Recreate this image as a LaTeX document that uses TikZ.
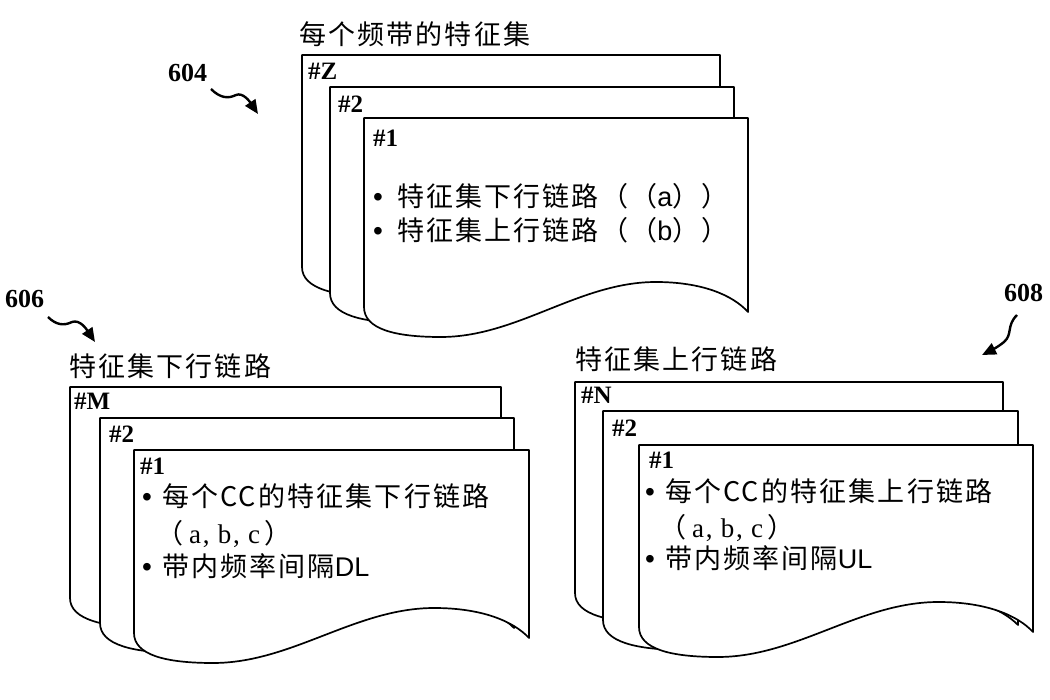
\documentclass[tikz,border=0pt]{standalone}
\usepackage{fontspec}
\setmainfont{Liberation Serif}
\newfontfamily\cjk[LetterSpace=8]{Noto Sans CJK SC}
\newfontfamily\lsans{Liberation Sans}
\newfontfamily\serifls[LetterSpace=6]{Liberation Serif}
\usetikzlibrary{arrows.meta}
\newcommand\bul{{\lsans\fontsize{28}{28}\selectfont •}}
\tikzset{
  pageline/.style={draw=black, fill=white, line width=1.7pt, line join=round},
  cjklbl/.style={anchor=base west, inner sep=0pt, font=\cjk\fontsize{27}{30}\selectfont},
  abclbl/.style={anchor=base west, inner sep=0pt, font=\serifls\fontsize{27}{30}\selectfont},
  idlbl/.style={anchor=base west, inner sep=0pt, font=\fontsize{25}{27}\selectfont\bfseries},
  numlbl/.style={anchor=base west, inner sep=0pt, font=\fontsize{26}{28}\selectfont\bfseries},
  squig/.style={line width=2.4pt, -{Triangle[length=14pt,width=12pt]}}
}
% #1 left, #2 top, #3 right, #4 bottom of left edge
\newcommand\docpage[4]{%
  \filldraw[pageline] (#1,#4) -- (#1,#2) -- (#3,#2) -- (#3,{#4+5})
   .. controls ({#3-0.04*(#3-#1)},{#4-12}) and ({#1+0.88*(#3-#1)},{#4-25}) .. ({#1+0.76*(#3-#1)},{#4-25})
   .. controls ({#1+0.56*(#3-#1)},{#4-25}) and ({#1+0.4*(#3-#1)},{#4+30}) .. ({#1+0.2*(#3-#1)},{#4+30})
   .. controls ({#1+0.08*(#3-#1)},{#4+30}) and (#1,{#4+22}) .. (#1,#4) -- cycle;}
\begin{document}
\begin{tikzpicture}[x=1pt,y=-1pt]
\useasboundingbox (0,0) rectangle (1050,700);

% ---------- group 604 ----------
\docpage{302}{55}{720}{267}
\docpage{330}{87}{734}{293}
\docpage{364}{118}{748}{307}
\node[cjklbl] (t604) at (299,45) {每个频带的特征集};
\node[numlbl] (n604) at (168,82) {604};
\node[idlbl] (z) at (308,80) {\#Z};
\node[idlbl] (z2) at (338,113) {\#2};
\node[idlbl] (z1) at (373,147) {\#1};
\node[cjklbl] (b1) at (373,207) {\bul\hspace{14pt}特征集下行链路（（{\lsans a}））};
\node[cjklbl] (b2) at (373,241) {\bul\hspace{14pt}特征集上行链路（（{\lsans b}））};
\coordinate (a604s) at (211,89);
\coordinate (a604e) at (258,114);
\draw[squig] (a604s) .. controls (220,98) and (228,99) .. (236,95)
  .. controls (243,92) and (250,102) .. (a604e);

% ---------- group 606 ----------
\docpage{70}{387}{501}{598}
\docpage{100}{418}{514}{623}
\docpage{134}{450}{529}{633}
\node[cjklbl] (t606) at (69,377) {特征集下行链路};
\node[numlbl] (n606) at (5,308) {606};
\node[idlbl] (m) at (74,410) {\#M};
\node[idlbl] (m2) at (109,443) {\#2};
\node[idlbl] (m1) at (140,475) {\#1};
\node[cjklbl] (d1) at (142,507) {\bul\hspace{10pt}每个CC的特征集下行链路};
\node[abclbl] (d2) at (156,543) {{\cjk （}\hspace{6pt}a, b, c\hspace{4pt}{\cjk ）}};
\node[cjklbl] (d3) at (142,576) {\bul\hspace{10pt}带内频率间隔{\lsans DL}};
\coordinate (a606s) at (48,317);
\coordinate (a606e) at (95,342);
\draw[squig] (a606s) .. controls (56,325) and (64,326) .. (72,322)
  .. controls (80,319) and (87,330) .. (a606e);

% ---------- group 608 ----------
\docpage{575}{382}{1003}{593}
\docpage{603}{411}{1018}{620}
\docpage{639}{445}{1033}{627}
\node[cjklbl] (t608) at (575,370) {特征集上行链路};
\node[numlbl] (n608) at (1004,302) {608};
\node[idlbl] (nn) at (581,404) {\#N};
\node[idlbl] (nn2) at (612,437) {\#2};
\node[idlbl] (nn1) at (649,468) {\#1};
\node[cjklbl] (u1) at (645,501) {\bul\hspace{10pt}每个CC的特征集上行链路};
\node[abclbl] (u2) at (659,537) {{\cjk （}\hspace{6pt}a, b, c\hspace{4pt}{\cjk ）}};
\node[cjklbl] (u3) at (645,568) {\bul\hspace{10pt}带内频率间隔{\lsans UL}};
\coordinate (a608s) at (1017,315);
\coordinate (a608e) at (982,355);
\draw[squig] (a608s) .. controls (1006,326) and (1013,334) .. (1004,342)
  .. controls (998,347) and (990,351) .. (a608e);
\end{tikzpicture}
\end{document}
